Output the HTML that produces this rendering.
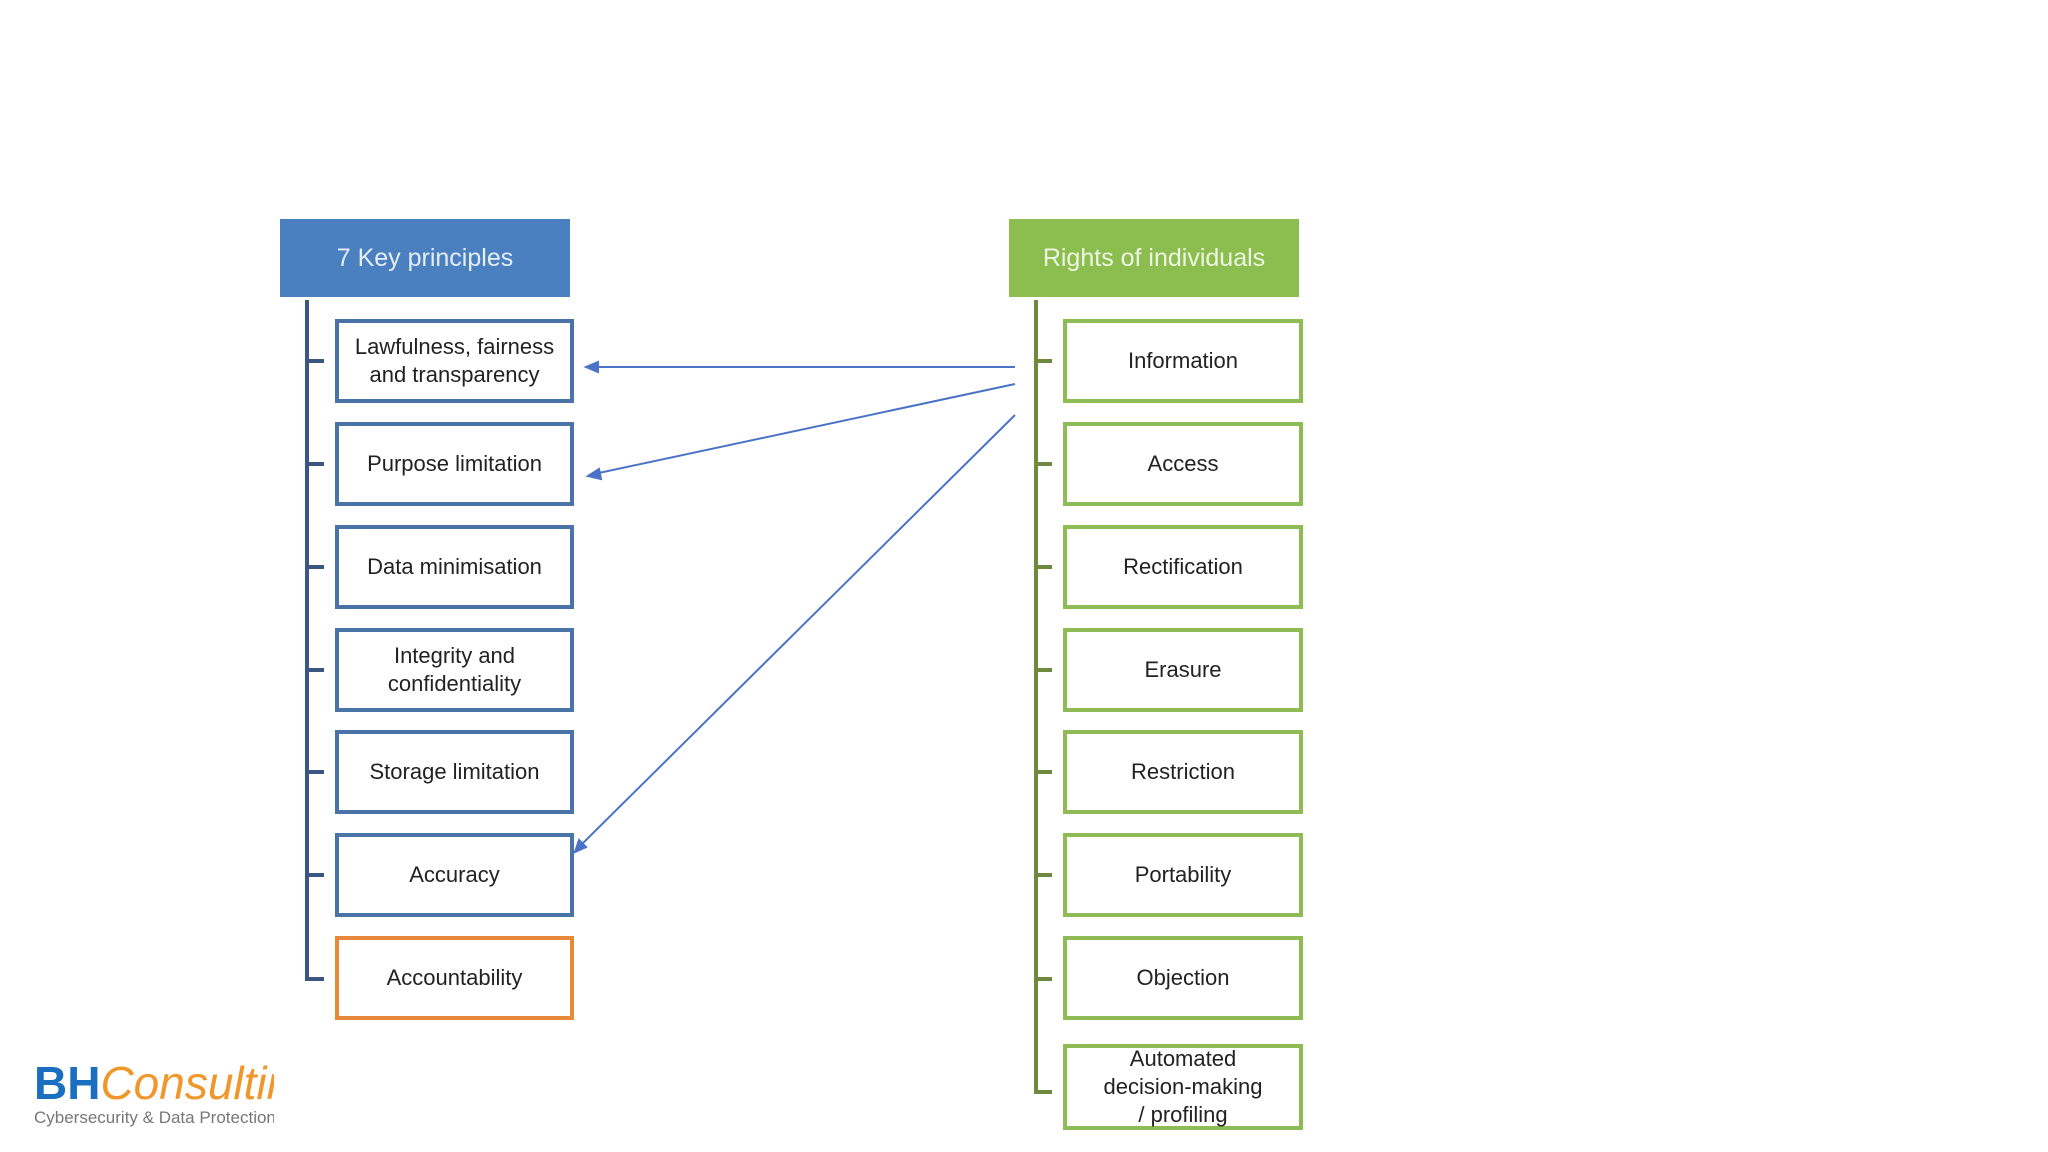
<!DOCTYPE html>
<html><head><meta charset="utf-8"><style>
body{margin:0;width:2048px;height:1152px;background:#fff;position:relative;overflow:hidden;font-family:"Liberation Sans",sans-serif}
.b{position:absolute;box-sizing:border-box;display:flex;align-items:center;justify-content:center;text-align:center;font-size:22px;color:#222;line-height:28px;background:#fff}
.l{left:335px;width:239px;height:84px;border:4px solid #4a73a8}
.r{left:1063px;width:240px;height:84px;border:4px solid #8fbb55}
.h{top:219px;height:78px;width:290px;font-size:25px;color:#e6eef8}
</style></head><body>
<div class="b h" style="left:280px;background:#4a7fc0">7 Key principles</div>
<div class="b h" style="left:1009px;background:#8cbd4f;color:#eef6e4">Rights of individuals</div>
<svg width="2048" height="1152" style="position:absolute;left:0;top:0">
<g stroke="#3b5680" stroke-width="4" fill="none">
<path d="M307 300V979H324"/>
<path d="M307 361H324M307 464H324M307 567H324M307 670H324M307 772H324M307 875H324"/>
</g>
<g stroke="#6f8a3e" stroke-width="4" fill="none">
<path d="M1036 300V1092H1052"/>
<path d="M1036 361H1052M1036 464H1052M1036 567H1052M1036 670H1052M1036 772H1052M1036 875H1052M1036 979H1052"/>
</g>
<g stroke="#4a73c8" stroke-width="2" fill="#4a73c8">
<line x1="1015" y1="367" x2="592" y2="367"/>
<polygon points="586,367 598,362 598,372"/>
<line x1="1015" y1="384" x2="594" y2="474"/>
<polygon points="588,476 599,469 601,479"/>
<line x1="1015" y1="415" x2="579" y2="847"/>
<polygon points="575,852 579,840 586,847"/>
</g>
</svg>
<div class="b l" style="top:319px">Lawfulness, fairness<br>and transparency</div>
<div class="b l" style="top:422px">Purpose limitation</div>
<div class="b l" style="top:525px">Data minimisation</div>
<div class="b l" style="top:628px">Integrity and<br>confidentiality</div>
<div class="b l" style="top:730px">Storage limitation</div>
<div class="b l" style="top:833px">Accuracy</div>
<div class="b l" style="top:936px;border-color:#e8893a">Accountability</div>
<div class="b r" style="top:319px">Information</div>
<div class="b r" style="top:422px">Access</div>
<div class="b r" style="top:525px">Rectification</div>
<div class="b r" style="top:628px">Erasure</div>
<div class="b r" style="top:730px">Restriction</div>
<div class="b r" style="top:833px">Portability</div>
<div class="b r" style="top:936px">Objection</div>
<div class="b r" style="top:1044px;height:86px">Automated<br>decision-making<br>/ profiling</div>
<div style="position:absolute;left:34px;top:1058px;width:240px;overflow:hidden;white-space:nowrap">
<div style="font-size:46px;line-height:50px"><b style="color:#1a6fbf">BH</b><i style="color:#f0962a">Consulting</i></div>
<div style="font-size:17px;color:#777;line-height:20px">Cybersecurity &amp; Data Protection</div>
</div>
</body></html>
